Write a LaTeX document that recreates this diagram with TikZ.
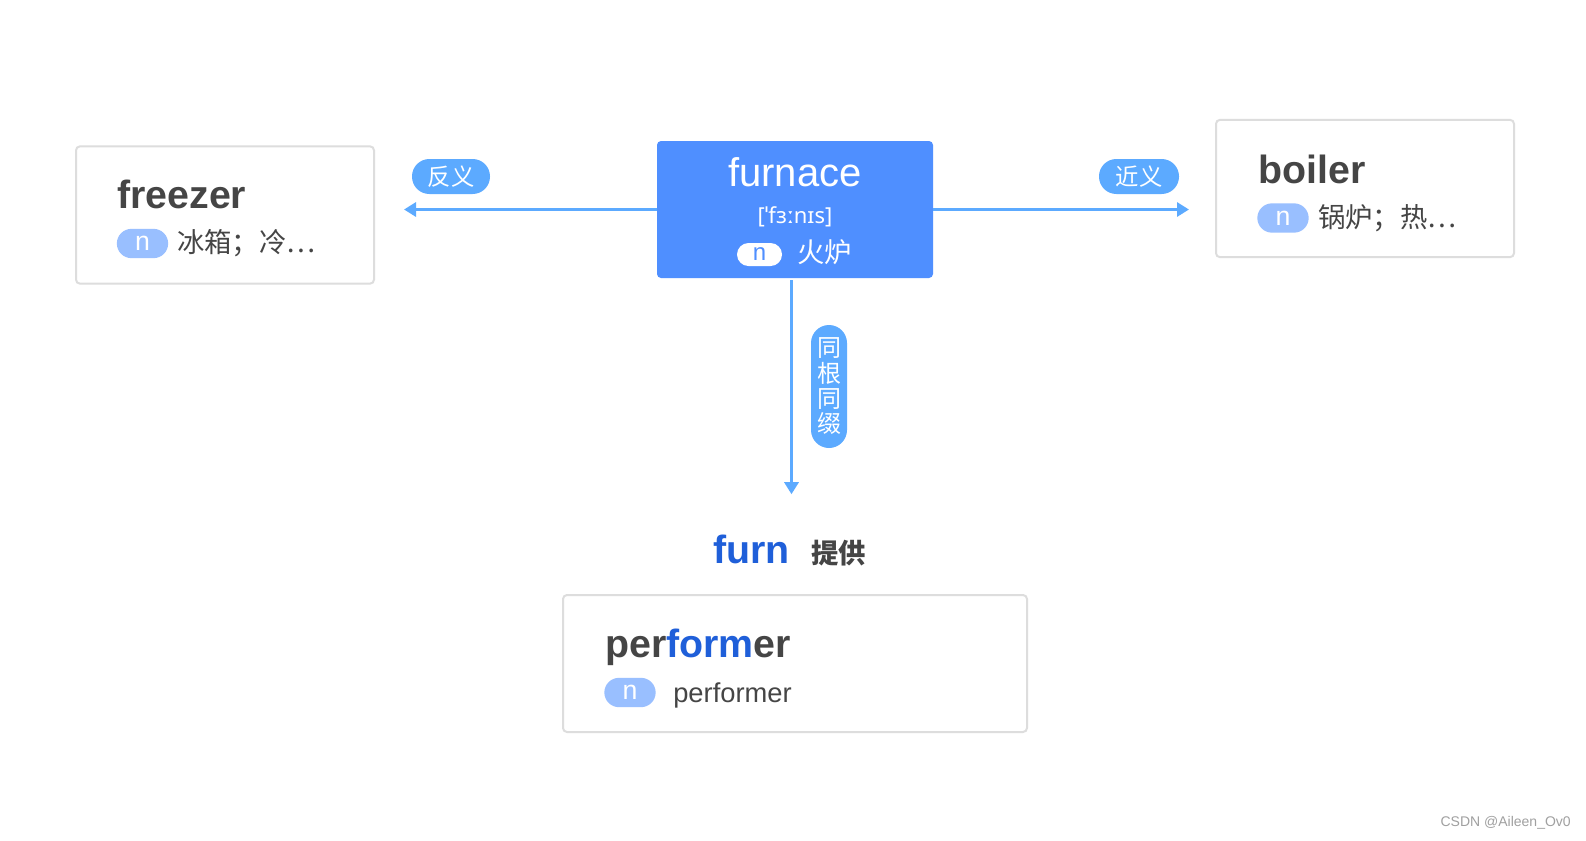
\documentclass[tikz,border=0pt]{standalone}
\usepackage{fontspec}
\setmainfont{Liberation Sans}
\newfontfamily\cjk{Noto Sans CJK SC}
\newfontfamily\ipa{Noto Sans}
\usetikzlibrary{arrows.meta}
\definecolor{mainblue}{HTML}{4F8FFF}
\definecolor{linkblue}{HTML}{5CAAFF}
\definecolor{pillblue}{HTML}{99BFFF}
\definecolor{wordgray}{HTML}{454545}
\definecolor{rootblue}{HTML}{1F5FD9}
\definecolor{cardedge}{HTML}{DDDDDD}
\definecolor{creditgray}{HTML}{A0A0A0}

\begin{document}
\begin{tikzpicture}[
    x=0.75pt, y=-0.75pt,
    card/.style={rectangle, draw=cardedge, line width=1.5pt, fill=white, rounded corners=3pt, inner sep=0pt, minimum width=223.5pt, minimum height=103pt},
    headword/.style={rectangle, fill=mainblue, rounded corners=3pt, inner sep=0pt, minimum width=207pt, minimum height=102.75pt},
    word/.style={anchor=base west, inner sep=0pt, text=wordgray, font=\fontsize{29.5}{31}\selectfont\bfseries},
    gloss/.style={anchor=west, inner sep=0pt, text=wordgray, font=\fontsize{20.5}{23}\selectfont\cjk},
    posbox/.style={rectangle, fill=pillblue, text=white, inner sep=0pt, minimum width=38.5pt, minimum height=22pt, rounded corners=11pt, font=\fontsize{20}{22}\selectfont},
    relation/.style={rectangle, fill=linkblue, text=white, inner sep=0pt, rounded corners=13pt, font=\fontsize{17.5}{19}\selectfont\cjk},
    link/.style={draw=linkblue, line width=2.4pt, -{Triangle[length=9pt, width=10.5pt]}}
]
\useasboundingbox[fill=white] (0,0) rectangle (1586,840);

% head word
\node [headword] (furnace) at (795,209.5) {};
\node [anchor=base, inner sep=0pt, text=white, font=\fontsize{30}{32}\selectfont] (furnacetitle) at (795,186) {furnace};
\node [anchor=base, inner sep=0pt, text=white, font=\ipa\fontsize{16.5}{18}\selectfont] (furnaceipa) at (795,223) {[ˈfɜːnɪs]};
\node [posbox, fill=white, text=mainblue, minimum width=33.75pt, minimum height=17.25pt, rounded corners=8.6pt, font=\fontsize{18}{20}\selectfont] (furnacepos) at (759.5,254.5) {n};
\node [gloss, text=white] (furnacegloss) at (797,252) {火炉};

% antonym
\node [card] (freezer) at (225,215) {};
\node [word] (freezerword) at (117,208) {freezer};
\node [posbox] (freezerpos) at (142.5,243.5) {n};
\node [gloss] (freezergloss) at (177,243) {冰箱；冷…};

% synonym
\node [card] (boiler) at (1365,188.5) {};
\node [word] (boilerword) at (1258,183) {boiler};
\node [posbox] (boilerpos) at (1283,218) {n};
\node [gloss] (boilergloss) at (1318,218) {锅炉；热…};

% same root
\node [anchor=base west, inner sep=0pt] (root) at (713,563)
    {\fontsize{29.5}{31}\selectfont\bfseries\color{rootblue}furn\hspace{16pt}\color{wordgray}\cjk\fontsize{20.5}{22}\selectfont 提供};
\node [card, minimum width=348pt, minimum height=102.75pt] (performer) at (795,663.5) {};
\node [word] (performerword) at (605,657) {per{\color{rootblue}form}er};
\node [posbox] (performerpos) at (630,692.5) {n};
\node [anchor=base west, inner sep=0pt, text=wordgray, font=\fontsize{20.5}{23}\selectfont] (performergloss) at (673,702) {performer};

% connectors
\draw [link, shorten >=21.75pt] (furnace.west) -- (furnace.west -| freezer.east);
\draw [link, shorten >=19.5pt] (furnace.east) -- (furnace.east -| boiler.west);
\draw [link, shorten <=1.5pt, shorten >=30pt] ([xshift=1.5pt]root.north |- furnace.south) -- ([xshift=1.5pt]root.north);
\node [relation, minimum width=58.5pt, minimum height=26.25pt] (antonym) at (451,176.5) {反义};
\node [relation, minimum width=60pt, minimum height=26.25pt] (synonym) at (1139,176.5) {近义};
\node [relation, minimum width=27pt, minimum height=92.25pt, rounded corners=13.5pt, align=center, font=\fontsize{18}{19}\selectfont\cjk] (sameroot) at (829,386.5) {同\\根\\同\\缀};

\node [anchor=east, inner sep=0pt, text=creditgray, font=\fontsize{10.5}{12}\selectfont] (credit) at (1571,823) {CSDN @Aileen\_Ov0};
\end{tikzpicture}
\end{document}
